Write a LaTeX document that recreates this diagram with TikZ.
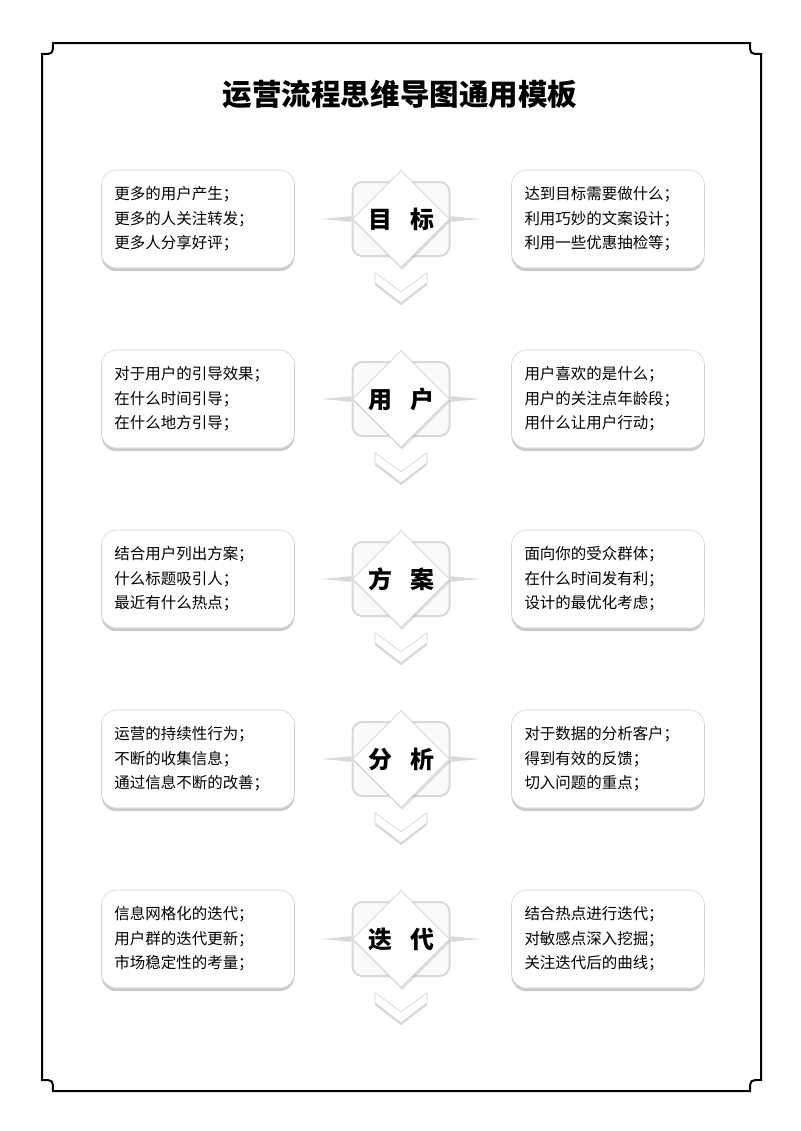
\documentclass[tikz,border=0pt]{standalone}
\usepackage{fontspec}
\setmainfont{Noto Sans CJK SC}
\usetikzlibrary{shapes.geometric,shadows,positioning}

\tikzset{
	textbox/.style={draw=gray!35, fill=white, rounded corners=3.75mm,
		drop shadow={shadow xshift=0mm, shadow yshift=-0.8mm, opacity=0.4},
		text width=41.75mm, inner xsep=3.25mm, minimum height=24.5mm,
		align=left, font=\fontsize{11}{17.4}\selectfont},
	backbox/.style={draw=gray!30, line width=0.5mm, fill=gray!4,
		rounded corners=2.5mm, minimum width=24.25mm, minimum height=18.5mm},
	keynode/.style={diamond, draw=gray!35, fill=white, inner sep=0pt,
		minimum size=24.25mm,
		drop shadow={shadow xshift=0.3mm, shadow yshift=-0.6mm, opacity=0.25},
		font=\fontsize{17}{17}\selectfont\bfseries},
	chevron/.style={draw=gray!35, fill=white,
		drop shadow={shadow xshift=0mm, shadow yshift=-0.6mm, opacity=0.3}},
	taper/.style={fill=gray!30}
}

\begin{document}
	\begin{tikzpicture}[x=0.25mm, y=-0.25mm]
		\useasboundingbox (0,0) rectangle (800,1131);
		% frame
		\draw[line width=0.5mm] (42,54) -- (42,1080) .. controls (53,1080) .. (53,1091)
			-- (750,1091) .. controls (750,1080) .. (761,1080)
			-- (761,54) .. controls (750,54) .. (750,43)
			-- (53,43) .. controls (53,54) .. (42,54) -- cycle;
		\node[font=\fontsize{21}{21}\selectfont\bfseries] (title) at (400,94) {运营流程思维导图通用模板};
		\begin{scope}[every node/.style={textbox}]
			\node (L1) at (198,219) {更多的用户产生；\\更多的人关注转发；\\更多人分享好评；};
			\node (R1) at (608,219) {达到目标需要做什么；\\利用巧妙的文案设计；\\利用一些优惠抽检等；};
			\node (L2) at (198,399) {对于用户的引导效果；\\在什么时间引导；\\在什么地方引导；};
			\node (R2) at (608,399) {用户喜欢的是什么；\\用户的关注点年龄段；\\用什么让用户行动；};
			\node (L3) at (198,579) {结合用户列出方案；\\什么标题吸引人；\\最近有什么热点；};
			\node (R3) at (608,579) {面向你的受众群体；\\在什么时间发有利；\\设计的最优化考虑；};
			\node (L4) at (198,759) {运营的持续性行为；\\不断的收集信息；\\通过信息不断的改善；};
			\node (R4) at (608,759) {对于数据的分析客户；\\得到有效的反馈；\\切入问题的重点；};
			\node (L5) at (198,939) {信息网格化的迭代；\\用户群的迭代更新；\\市场稳定性的考量；};
			\node (R5) at (608,939) {结合热点进行迭代；\\对敏感点深入挖掘；\\关注迭代后的曲线；};
		\end{scope}
		\begin{scope}[every node/.style={backbox}]
			\node (B1) at (401,219) {};
			\node (B2) at (401,399) {};
			\node (B3) at (401,579) {};
			\node (B4) at (401,759) {};
			\node (B5) at (401,939) {};
		\end{scope}
		% tapered lines
		\foreach \i in {1,...,5} {
			\fill[taper] ([yshift=0.7mm]B\i.west) -- ([yshift=-0.7mm]B\i.west) -- ++(-30,-2.8) -- cycle;
			\fill[taper] ([yshift=0.7mm]B\i.east) -- ([yshift=-0.7mm]B\i.east) -- ++(30,-2.8) -- cycle;
		}
		\begin{scope}[every node/.style={keynode}]
			\node (D1) at (401,219) {目\hspace{4.5mm}标};
			\node (D2) at (401,399) {用\hspace{4.5mm}户};
			\node (D3) at (401,579) {方\hspace{4.5mm}案};
			\node (D4) at (401,759) {分\hspace{4.5mm}析};
			\node (D5) at (401,939) {迭\hspace{4.5mm}代};
		\end{scope}
		% chevrons
		\foreach \i in {1,...,5} {
			\draw[chevron, shift={(D\i.south)}] (-26,5) -- (0,24) -- (26,5) -- (26,15) -- (0,35) -- (-26,15) -- cycle;
		}
	\end{tikzpicture}
\end{document}
